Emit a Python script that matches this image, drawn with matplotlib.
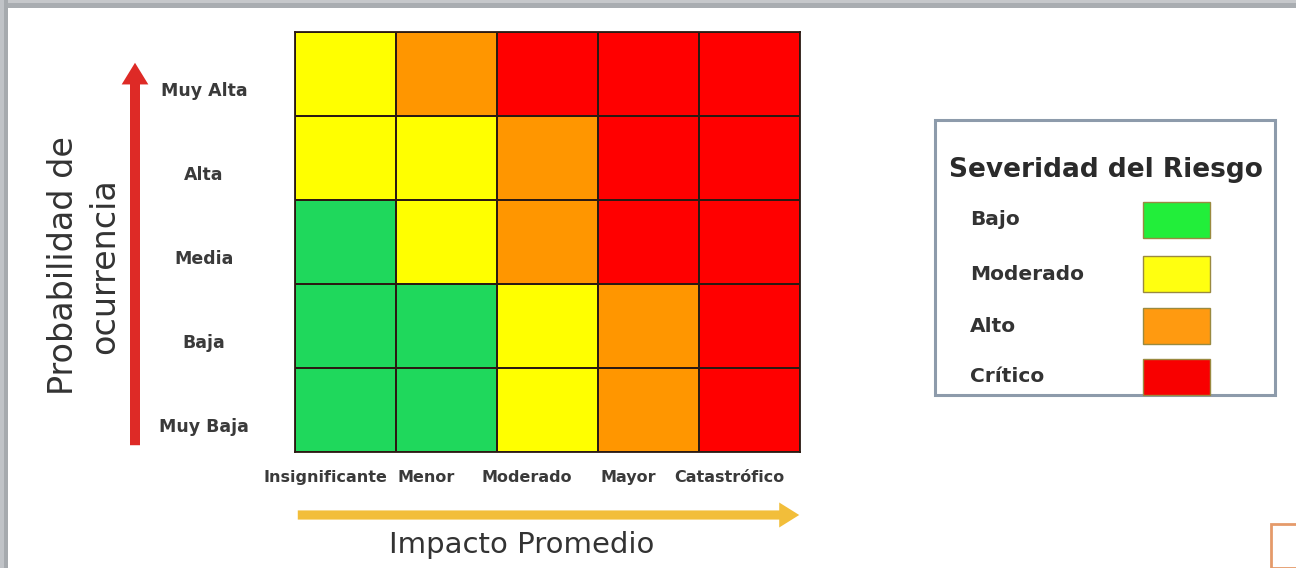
#
# Matriz de riesgo: probabilidad vs impacto
#
import matplotlib as mpl
mpl.use('Agg')
import matplotlib.pyplot as plt
import numpy as np
from matplotlib.colors import ListedColormap
from matplotlib.patches import Rectangle, FancyArrowPatch

plt.rcParams['font.family'] = ['DejaVu Sans']

# Data
impacto = ['Insignificante', 'Menor', 'Moderado', 'Mayor', 'Catastrófico']
probabilidad = ['Muy Baja', 'Baja', 'Media', 'Alta', 'Muy Alta']   # bottom -> top
severidad = ['Bajo', 'Moderado', 'Alto', 'Crítico']
sev_colors = ['#1fd85c', '#ffff00', '#ff9600', '#ff0000']
legend_colors = ['#22ee3a', '#ffff10', '#ff9a10', '#f80000']

# severity level per cell, rows from Muy Baja up to Muy Alta
nivel = np.array([
    [0, 0, 1, 2, 3],
    [0, 0, 1, 2, 3],
    [0, 1, 2, 3, 3],
    [1, 1, 2, 3, 3],
    [1, 2, 3, 3, 3],
])

W, H = 1296, 568
def fx(px): return px / W
def fy(py): return 1 - py / H

fig = plt.figure(figsize=(W / 100, H / 100), dpi=100)
fig.patch.set_facecolor('white')

# grey frame from the screenshot
fig.add_artist(Rectangle((0, fy(8)), 1, 8 / H, transform=fig.transFigure, color='#a9adb1', lw=0))
fig.add_artist(Rectangle((0, fy(3)), 1, 3 / H, transform=fig.transFigure, color='#c6c8cb', lw=0))
fig.add_artist(Rectangle((0, 0), 8 / W, 1, transform=fig.transFigure, color='#a6aaae', lw=0))
fig.add_artist(Rectangle((0, 0), 4 / W, 1, transform=fig.transFigure, color='#c0c3c7', lw=0))

# Matrix
ax = fig.add_axes([fx(295), fy(452), (800 - 295) / W, (452 - 32) / H])
cmap = ListedColormap(sev_colors)
ax.pcolormesh(np.arange(6), np.arange(6), nivel, cmap=cmap, vmin=-0.5, vmax=3.5,
              edgecolors='#2b1a12', linewidth=1.3)
ax.set_xlim(0, 5)
ax.set_ylim(0, 5)
ax.set_xticks([])
ax.set_yticks([])
for s in ax.spines.values():
    s.set_edgecolor('#2b1a12')
    s.set_linewidth(1.3)

for i, lab in enumerate(probabilidad):
    ax.text(-0.9, i + 0.5 - 0.2, lab, ha='center', va='center', fontsize=12.5,
            fontweight='bold', color='#3a3a3a', clip_on=False)
for j, lab in enumerate(impacto):
    ax.text(j + 0.5 - 0.2, -0.3, lab, ha='center', va='center', fontsize=11.5,
            fontweight='bold', color='#3a3a3a', clip_on=False)

# Arrows
fig.add_artist(FancyArrowPatch((fx(135), fy(448)), (fx(135), fy(60)), transform=fig.transFigure,
                               arrowstyle='simple,head_width=1.6,head_length=1.3,tail_width=0.6',
                               mutation_scale=12, color='#de2a26', lw=0))
fig.add_artist(FancyArrowPatch((fx(295), fy(515)), (fx(802), fy(515)), transform=fig.transFigure,
                               arrowstyle='simple,head_width=1.5,head_length=1.2,tail_width=0.55',
                               mutation_scale=12, color='#f2be3a', lw=0))

# Axis titles
fig.text(fx(84), fy(266), 'Probabilidad de\nocurrencia', rotation=90, ha='center', va='center',
         fontsize=24, color='#333333', linespacing=1.3)
fig.text(fx(522), fy(545), 'Impacto Promedio', ha='center', va='center', fontsize=21,
         color='#333333')

# Legend box
fig.add_artist(Rectangle((fx(935), fy(395)), (1275 - 935) / W, (395 - 120) / H,
                         transform=fig.transFigure, facecolor='white', edgecolor='#8d9bab', lw=2.2))
fig.text(fx(1106), fy(170), 'Severidad del Riesgo', ha='center', va='center', fontsize=19,
         fontweight='bold', color='#2a2a2a')
lab_y = [220, 274, 326, 377]
for k, lab in enumerate(severidad):
    fig.text(fx(970), fy(lab_y[k]), lab, ha='left', va='center', fontsize=14.5,
             fontweight='bold', color='#333333')
    fig.add_artist(Rectangle((fx(1143), fy(lab_y[k] + 18)), 67 / W, 36 / H,
                             transform=fig.transFigure, facecolor=legend_colors[k],
                             edgecolor='#9a8a40', lw=1.0))

# partial box bottom right
fig.add_artist(Rectangle((fx(1271), 0), 40 / W, (568 - 524) / H, transform=fig.transFigure,
                         facecolor='white', edgecolor='#e59a6a', lw=2.0))

fig.savefig('out.png', dpi=100)
